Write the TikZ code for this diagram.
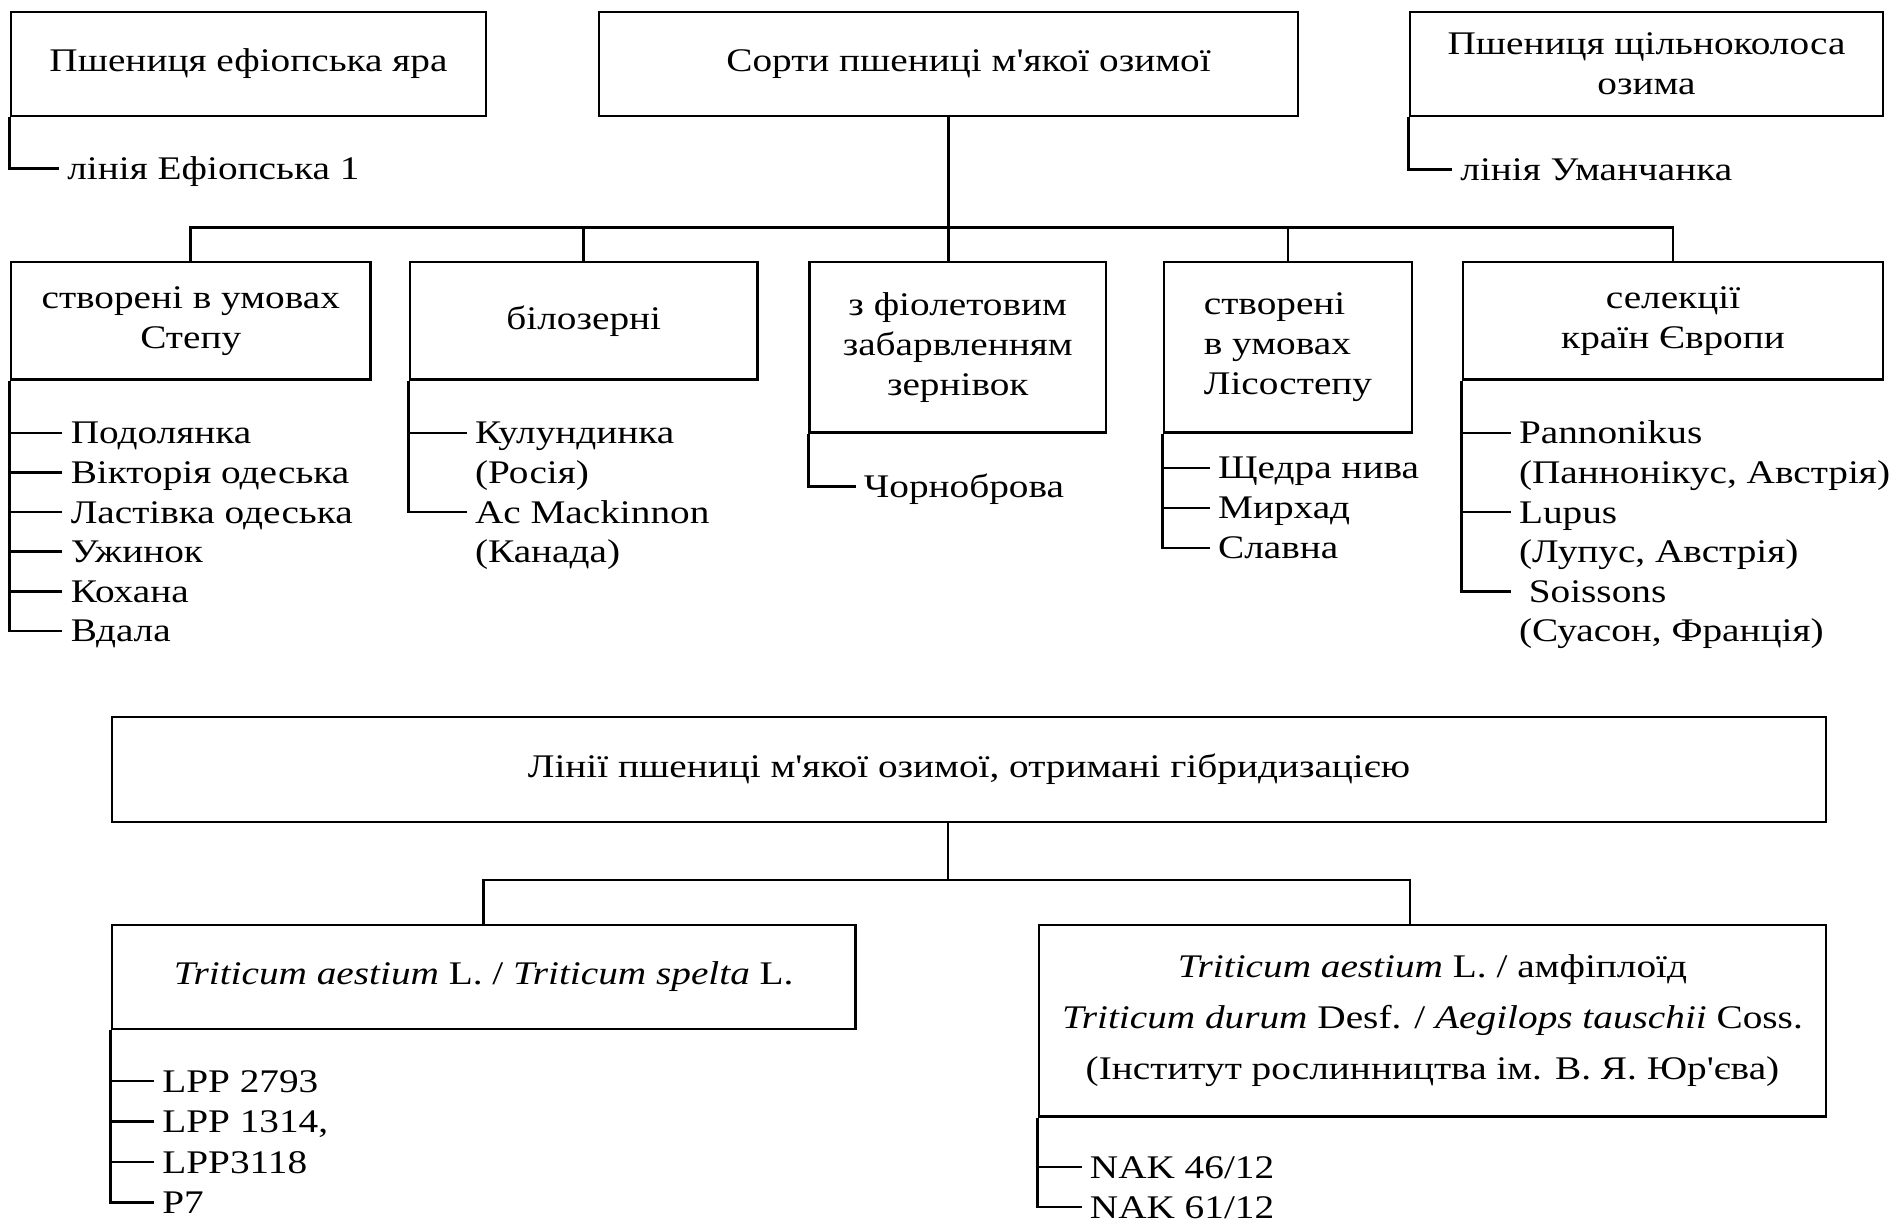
\documentclass[tikz,border=0pt]{standalone}
\usepackage{fontspec}
\setmainfont{Liberation Serif}[Ligatures=TeXOff, FakeStretch=1.19]

\begin{document}
\begin{tikzpicture}[x=0.5pt, y=-0.5pt,
  box/.style={draw, line width=1.3pt, inner sep=0pt, align=center,
    font=\fontsize{16.5}{20}\selectfont},
  item/.style={anchor=west, inner xsep=4pt, inner ysep=0pt,
    text height=11pt, text depth=0pt, font=\fontsize{16.5}{20}\selectfont},
  link/.style={line width=1.3pt},
]
  \useasboundingbox (0,0) rectangle (1897,1226);

  % top row
  \node[box, minimum width=237.5pt, minimum height=52pt] (ethbox) at (248.5,64)
    {Пшениця ефіопська яра};
  \node[box, minimum width=349.5pt, minimum height=52pt] (mainbox) at (948.5,64)
    {\hspace*{20pt}Сорти пшениці м'якої озимої};
  \node[box, minimum width=236.5pt, minimum height=52pt] (compbox) at (1646.5,64)
    {Пшениця щільноколоса\\озима};
  \node[item] (ethline) at (59,168.6) {лінія Ефіопська 1};
  \node[item] (umanline) at (1452,169.4) {лінія Уманчанка};
  \draw[link] (ethbox.south west) |- (ethline.west);
  \draw[link] (compbox.south west) |- (umanline.west);

  % groups of varieties
  \node[box, minimum width=179.75pt, minimum height=58.75pt] (stepbox) at (190.75,320.75)
    {створені в умовах\\Степу};
  \node[box, minimum width=173.75pt, minimum height=58.75pt] (whitebox) at (583.75,320.75)
    {білозерні};
  \node[box, minimum width=148.25pt, minimum height=85.25pt] (violbox) at (957.75,347.25)
    {з фіолетовим\\забарвленням\\зернівок};
  \node[box, align=left, minimum width=124pt, minimum height=85.25pt] (forestbox) at (1288,347.25)
    {створені\\в умовах\\Лісостепу};
  \node[box, minimum width=210pt, minimum height=58.75pt] (eurobox) at (1673,320.75)
    {селекції\\країн Європи};

  % bus from the main box
  \coordinate (bus) at (949,227.6);
  \draw[link] (mainbox.south) -- (mainbox.south |- violbox.north);
  \draw[link] (stepbox.north) |- (eurobox.north |- bus) -- (eurobox.north);
  \draw[link] (whitebox.north) -- (whitebox.north |- bus);
  \draw[link] (forestbox.north) -- (forestbox.north |- bus);

  % Steppe
  \node[item] (podol) at (62.4,432.8) {Подолянка};
  \node[item] (viktor) at (62.4,472.4) {Вікторія одеська};
  \node[item] (lastiv) at (62.4,512) {Ластівка одеська};
  \node[item] (uzhyn) at (62.4,551.6) {Ужинок};
  \node[item] (kokh) at (62.4,591.2) {Кохана};
  \node[item] (vdal) at (62.4,630.8) {Вдала};
  \draw[link] (stepbox.south west) |- (podol.west);
  \draw[link] (stepbox.south west) |- (viktor.west);
  \draw[link] (stepbox.south west) |- (lastiv.west);
  \draw[link] (stepbox.south west) |- (uzhyn.west);
  \draw[link] (stepbox.south west) |- (kokh.west);
  \draw[link] (stepbox.south west) |- (vdal.west);

  % white grain
  \node[item] (kulun) at (466.6,432.8) {Кулундинка};
  \node[item] (kulunc) at (466.6,472.4) {(Росія)};
  \node[item] (mackin) at (466.6,512) {Ac Mackinnon};
  \node[item] (mackinc) at (466.6,551.6) {(Канада)};
  \draw[link] (whitebox.south west) |- (kulun.west);
  \draw[link] (whitebox.south west) |- (mackin.west);

  % violet grain
  \node[item] (chorn) at (855.5,486.7) {Чорноброва};
  \draw[link] (violbox.south west) |- (chorn.west);

  % forest-steppe
  \node[item] (shchedr) at (1209.7,467.8) {Щедра нива};
  \node[item] (myrkh) at (1209.7,507.8) {Мирхад};
  \node[item] (slavn) at (1209.7,547.8) {Славна};
  \draw[link] (forestbox.south west) |- (shchedr.west);
  \draw[link] (forestbox.south west) |- (myrkh.west);
  \draw[link] (forestbox.south west) |- (slavn.west);

  % Europe
  \node[item] (pannon) at (1510.6,432.8) {Pannonikus};
  \node[item] (pannonc) at (1510.6,472.4) {(Паннонікус, Австрія)};
  \node[item] (lupus) at (1510.6,512) {Lupus};
  \node[item] (lupusc) at (1510.6,551.6) {(Лупус, Австрія)};
  \node[item] (soiss) at (1510.6,591.2) {\ Soissons};
  \node[item] (soissc) at (1510.6,630.8) {(Суасон, Франція)};
  \draw[link] (eurobox.south west) |- (pannon.west);
  \draw[link] (eurobox.south west) |- (lupus.west);
  \draw[link] (eurobox.south west) |- (soiss.west);

  % hybrid lines
  \node[box, minimum width=857pt, minimum height=52.5pt] (hybbox) at (969,769.5)
    {Лінії пшениці м'якої озимої, отримані гібридизацією};
  \node[box, minimum width=371.75pt, minimum height=52pt] (speltbox) at (483.75,977)
    {\textit{Triticum aestium} L. / \textit{Triticum spelta} L.};
  \node[box, minimum width=393.5pt, minimum height=95.75pt,
    font=\fontsize{16.5}{25.5}\selectfont] (amphbox) at (1432.5,1020.75)
    {\textit{Triticum aestium} L. / амфіплоїд\\
     \textit{Triticum durum} Desf. / \textit{Aegilops tauschii} Coss.\\
     (Інститут рослинництва ім. В. Я. Юр'єва)};
  \coordinate (hub) at (948,880);
  \coordinate (kdrop) at (1410,880);
  \draw[link] (hub |- hybbox.south) -- (hub);
  \draw[link] (speltbox.north) |- (kdrop) -- (kdrop |- amphbox.north);

  \node[item] (lpp1) at (154,1081) {LPP 2793};
  \node[item] (lpp2) at (154,1121.5) {LPP 1314,};
  \node[item] (lpp3) at (154,1162) {LPP3118};
  \node[item] (p7) at (154,1202.5) {P7};
  \draw[link] (speltbox.south west) |- (lpp1.west);
  \draw[link] (speltbox.south west) |- (lpp2.west);
  \draw[link] (speltbox.south west) |- (lpp3.west);
  \draw[link] (speltbox.south west) |- (p7.west);

  \node[item] (nak1) at (1081.5,1167) {NAK 46/12};
  \node[item] (nak2) at (1081.5,1207) {NAK 61/12};
  \draw[link] (amphbox.south west) |- (nak1.west);
  \draw[link] (amphbox.south west) |- (nak2.west);
\end{tikzpicture}
\end{document}
